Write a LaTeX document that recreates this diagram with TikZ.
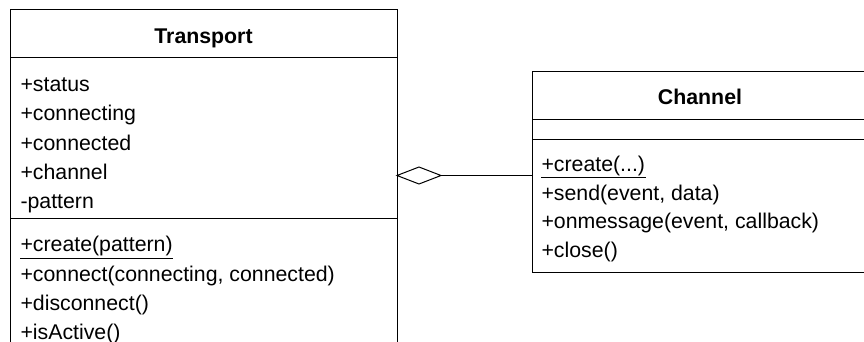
\documentclass[tikz,border=0pt]{standalone}
\usepackage{fontspec}
\setmainfont{Liberation Sans}
\usetikzlibrary{shapes.geometric}
\begin{document}
\begin{tikzpicture}[x=1pt,y=-1pt, line width=1pt,
  classbox/.style={draw, rectangle, inner sep=0pt, outer sep=0pt, anchor=north west},
  txt/.style={anchor=base west, inner sep=0pt, font=\fontsize{21.3}{25}\selectfont},
  ttl/.style={anchor=base, inner sep=0pt, font=\fontsize{21.3}{25}\selectfont\bfseries},
  agg/.style={draw, diamond, fill=white, inner sep=0pt, outer sep=0pt, minimum width=44pt, minimum height=17pt}]
\useasboundingbox (0,0) rectangle (864,342);
\clip (0,0) rectangle (864,342);
% Transport class
\node[classbox, minimum width=387pt, minimum height=360pt] (transport) at (10,10) {};
\draw (10,58) -- (397,58);
\draw (10,218) -- (397,218);
\node[ttl] (tT) at (203.5,43.5) {Transport};
\node[txt] (a1) at (20,92) {+status};
\node[txt] (a2) at (20,121) {+connecting};
\node[txt] (a3) at (20,150) {+connected};
\node[txt] (a4) at (20,179) {+channel};
\node[txt] (a5) at (20,208) {-pattern};
\node[txt] (m1) at (20,251) {+create(pattern)};
\draw[line width=0.9pt] ([yshift=-7.5pt]m1.base west) -- ([yshift=-7.5pt]m1.base east);
\node[txt] (m2) at (20,281) {+connect(connecting, connected)};
\node[txt] (m3) at (20,310) {+disconnect()};
\node[txt] (m4) at (20,339) {+isActive()};
% Channel class
\node[classbox, minimum width=336pt, minimum height=200pt] (channel) at (532,72) {};
\draw (532,120) -- (868,120);
\draw (532,139) -- (868,139);
\node[ttl] (tC) at (700,104.5) {Channel};
\node[txt] (c1) at (541,171.5) {+create(...)};
\draw[line width=0.9pt] ([yshift=-6pt]c1.base west) -- ([yshift=-6pt]c1.base east);
\node[txt] (c2) at (541,200) {+send(event, data)};
\node[txt] (c3) at (541,228.5) {+onmessage(event, callback)};
\node[txt] (c4) at (541,257) {+close()};
% aggregation
\node[agg, anchor=west] (dia) at (397,175.5) {};
\draw (dia.east) -- (dia.east -| channel.west);
\end{tikzpicture}
\end{document}
